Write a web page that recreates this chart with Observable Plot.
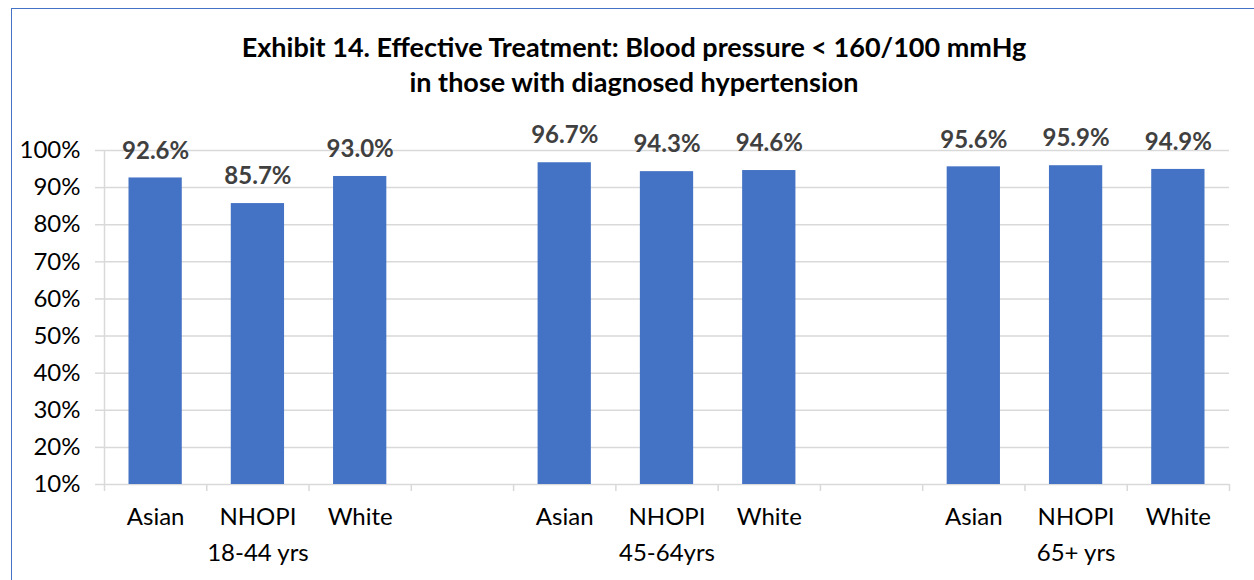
<!DOCTYPE html>
<html>
<head>
<meta charset="utf-8">
<script src="https://cdn.jsdelivr.net/npm/d3@7"></script>
<script src="https://cdn.jsdelivr.net/npm/@observablehq/plot@0.6"></script>
<style>
  html, body { margin: 0; padding: 0; background: #fff; overflow: hidden; }
  #wrap { position: relative; width: 1254px; height: 580px; overflow: hidden; font-family: Lato, "Open Sans", sans-serif; }
  #frame { position: absolute; left: 11px; top: 8px; width: 1400px; height: 700px; border: 1.5px solid #4472c4; box-sizing: border-box; }
  #title { position: absolute; left: 0; top: 29px; width: 1268px; text-align: center; font-weight: 700; font-size: 27px; line-height: 35px; color: #000; }
  #chart { position: absolute; left: 0; top: 0; }
</style>
</head>
<body>
<div id="wrap">
  <div id="frame"></div>
  <div id="chart"></div>
  <div id="title">Exhibit 14. Effective Treatment: Blood pressure &lt; 160/100 mmHg<br>in those with diagnosed hypertension</div>
</div>
<script>
// Age groups, race categories and the share of people with diagnosed
// hypertension whose blood pressure is below 160/100 mmHg.
const ageGroups = ["18-44 yrs", "45-64yrs", "65+ yrs"];
const races = ["Asian", "NHOPI", "White"];
const values1844 = [92.6, 85.7, 93.0];
const values4564 = [96.7, 94.3, 94.6];
const values65 = [95.6, 95.9, 94.9];
const yTicks = [10, 20, 30, 40, 50, 60, 70, 80, 90, 100];

const seriesByGroup = [values1844, values4564, values65];

// Each age group takes three category slots followed by one empty spacer slot.
const slotsPerGroup = races.length + 1;
const slotCount = ageGroups.length * slotsPerGroup - 1;

const rows = [];
ageGroups.forEach((group, g) => {
  races.forEach((race, r) => {
    rows.push({group, race, value: seriesByGroup[g][r], slot: g * slotsPerGroup + r});
  });
});
const groupLabels = ageGroups.map((group, g) => ({group, slot: g * slotsPerGroup + 1}));

const barColor = "#4472c4";
const gridColor = "#d9d9d9";

const chart = Plot.plot({
  width: 1254,
  height: 580,
  marginLeft: 104,
  marginRight: 25,
  marginTop: 150,
  marginBottom: 96,
  style: {fontFamily: "Lato, 'Open Sans', sans-serif", background: "transparent", overflow: "visible"},
  x: {domain: [0, slotCount], axis: null},
  y: {domain: [10, 100], axis: null},
  marks: [
    Plot.gridY(yTicks, {stroke: gridColor, strokeOpacity: 1, strokeWidth: 1.5}),
    Plot.axisY({
      ticks: yTicks,
      label: null,
      tickSize: 9,
      tickPadding: 15,
      stroke: gridColor,
      strokeWidth: 1.5,
      fill: "#000",
      fontSize: 24,
      tickFormat: d => d + "%"
    }),
    Plot.ruleX([0], {y1: 10, y2: 100, stroke: gridColor, strokeWidth: 1.5}),
    Plot.axisX({
      ticks: d3.range(slotCount + 1),
      label: null,
      tickSize: 7,
      stroke: gridColor,
      strokeWidth: 1.5,
      tickFormat: () => ""
    }),
    Plot.rectY(rows, {
      x1: d => d.slot,
      x2: d => d.slot + 1,
      y1: 10,
      y2: "value",
      insetLeft: 24.5,
      insetRight: 24.5,
      fill: barColor
    }),
    Plot.text(rows, {
      x: d => d.slot + 0.5,
      y: "value",
      text: d => d.value.toFixed(1) + "%",
      dy: -27,
      fontSize: 24,
      fontWeight: 700,
      fill: "#404040"
    }),
    Plot.text(rows, {
      x: d => d.slot + 0.5,
      y: 10,
      text: "race",
      dy: 33,
      fontSize: 24,
      fill: "#000"
    }),
    Plot.text(groupLabels, {
      x: d => d.slot + 0.5,
      y: 10,
      text: "group",
      dy: 69,
      fontSize: 24,
      fill: "#000"
    })
  ]
});

document.getElementById("chart").appendChild(chart);
</script>
</body>
</html>
